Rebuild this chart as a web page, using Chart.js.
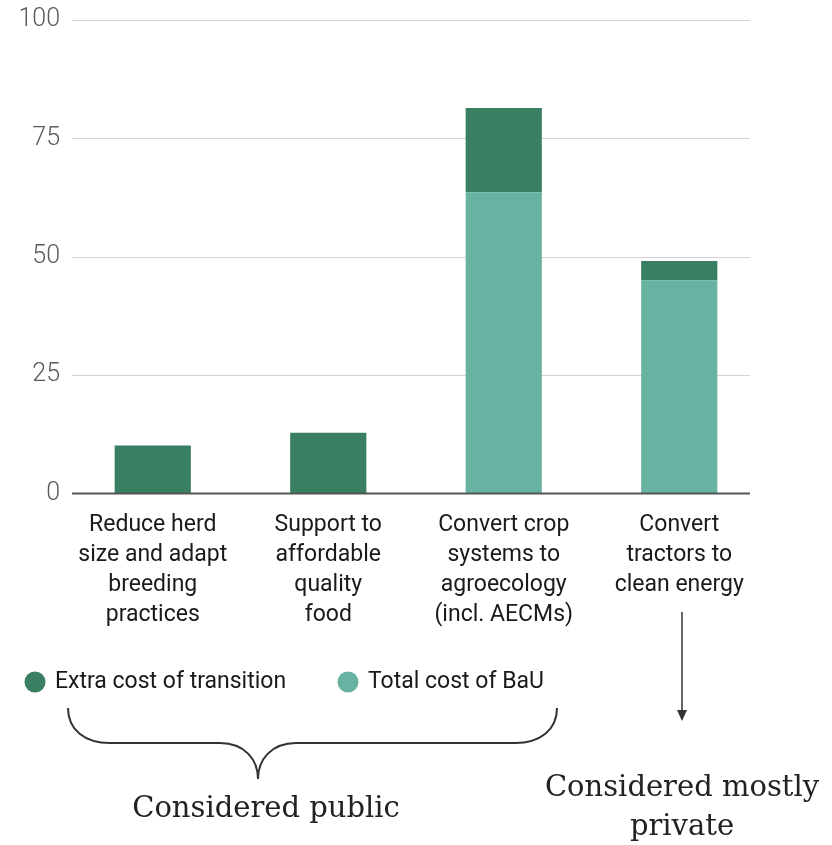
<!DOCTYPE html>
<html>
<head>
<meta charset="utf-8">
<script src="https://cdn.jsdelivr.net/npm/chart.js@4.4.1/dist/chart.umd.min.js"></script>
<style>
  body { margin: 0; background: #fff; }
  canvas { display: block; }
</style>
</head>
<body>
<canvas id="grafico" width="832" height="845"></canvas>
<script>
// Categorías (etiquetas del eje x, en varias líneas)
const categorias = [
    ['Reduce herd', 'size and adapt', 'breeding', 'practices'],
    ['Support to', 'affordable', 'quality', 'food'],
    ['Convert crop', 'systems to', 'agroecology', '(incl. AECMs)'],
    ['Convert', 'tractors to', 'clean energy']
];
// Series
const costoBaU = [null, null, 63.6, 45.0];
const costoExtra = [10.1, 12.8, 17.8, 4.1];
const nombresSeries = ['Total cost of BaU', 'Extra cost of transition'];
// Marcas del eje y
const marcasY = [0, 25, 50, 75, 100];

const colorOscuro = '#3a7f62';
const colorClaro = '#67b2a0';

//Plugin para líneas de grilla, leyenda, llave y flecha.
const anotaciones = {
    id: 'anotaciones',
    beforeDatasetsDraw(chart) {
        const { ctx, scales: { y } } = chart;
        ctx.save();
        ctx.strokeStyle = '#d4d4d4';
        ctx.lineWidth = 1;
        marcasY.forEach(v => {
            if (v === 0) return;
            const py = Math.round(y.getPixelForValue(v)) + 0.5;
            ctx.beginPath();
            ctx.moveTo(72, py);
            ctx.lineTo(750, py);
            ctx.stroke();
        });
        ctx.restore();
    },
    afterDatasetsDraw(chart) {
        const { ctx, scales: { y } } = chart;
        const py = y.getPixelForValue(0);
        ctx.save();
        ctx.strokeStyle = '#555';
        ctx.lineWidth = 2;
        ctx.beginPath();
        ctx.moveTo(72, py);
        ctx.lineTo(750, py);
        ctx.stroke();
        ctx.restore();
    },
    afterDraw(chart) {
        const ctx = chart.ctx;
        ctx.save();

        // Leyenda (orden inverso al apilado)
        const items = chart.data.datasets.slice().reverse();
        const posX = [35, 348];
        ctx.font = '23px Roboto';
        ctx.textBaseline = 'middle';
        items.forEach((ds, i) => {
            ctx.fillStyle = ds.backgroundColor;
            ctx.beginPath();
            ctx.arc(posX[i], 682, 10.5, 0, Math.PI * 2);
            ctx.fill();
            ctx.fillStyle = '#1a1a1a';
            ctx.textAlign = 'left';
            ctx.fillText(ds.label, posX[i] + 20, 682);
        });

        // Llave bajo las categorías públicas
        ctx.strokeStyle = '#333';
        ctx.lineWidth = 2;
        ctx.beginPath();
        ctx.moveTo(68, 708);
        ctx.bezierCurveTo(68, 730, 85, 743, 110, 743);
        ctx.lineTo(220, 743);
        ctx.bezierCurveTo(245, 743, 258, 760, 258, 779);
        ctx.bezierCurveTo(258, 760, 271, 743, 296, 743);
        ctx.lineTo(515, 743);
        ctx.bezierCurveTo(540, 743, 557, 730, 557, 708);
        ctx.stroke();

        // Flecha bajo la categoría privada
        ctx.lineWidth = 1.5;
        ctx.beginPath();
        ctx.moveTo(682, 612);
        ctx.lineTo(682, 712);
        ctx.stroke();
        ctx.fillStyle = '#333';
        ctx.beginPath();
        ctx.moveTo(677, 710);
        ctx.lineTo(687, 710);
        ctx.lineTo(682, 721);
        ctx.closePath();
        ctx.fill();

        // Textos
        ctx.fillStyle = '#222';
        ctx.font = '29px "DejaVu Serif"';
        ctx.textAlign = 'center';
        ctx.textBaseline = 'alphabetic';
        ctx.fillText('Considered public', 266, 817);
        ctx.fillText('Considered mostly', 682, 796);
        ctx.fillText('private', 682, 835);

        ctx.restore();
    }
};

const ctx = document.querySelector('#grafico').getContext('2d');
const myChart = new Chart(ctx, {
    type: 'bar',
    data: {
        labels: categorias,
        datasets: [{
            label: nombresSeries[0],
            data: costoBaU,
            backgroundColor: colorClaro,
            categoryPercentage: 0.434,
            barPercentage: 1
        }, {
            label: nombresSeries[1],
            data: costoExtra,
            backgroundColor: colorOscuro,
            categoryPercentage: 0.434,
            barPercentage: 1
        }]
    },
    options: {
        responsive: false,
        animation: false,
        layout: {
            padding: { top: 4, left: 0, right: 65, bottom: 198 }
        },
        plugins: {
            legend: { display: false },
            tooltip: { enabled: false }
        },
        scales: {
            x: {
                stacked: true,
                grid: { display: false, drawTicks: false },
                border: { display: false },
                ticks: {
                    padding: 17,
                    maxRotation: 0,
                    autoSkip: false,
                    color: '#1a1a1a',
                    font: { family: 'Roboto', size: 23, lineHeight: 1.3 }
                }
            },
            y: {
                stacked: true,
                min: 0,
                max: 100,
                afterFit: (scale) => { scale.width = 65; },
                afterBuildTicks: (scale) => { scale.ticks = marcasY.map(v => ({ value: v })); },
                grid: { display: false, drawTicks: false },
                border: { display: false },
                ticks: {
                    padding: 5,
                    color: '#5a5a5a',
                    font: { family: 'Roboto', size: 25, weight: 300 }
                }
            }
        }
    },
    plugins: [anotaciones]
});
</script>
</body>
</html>
